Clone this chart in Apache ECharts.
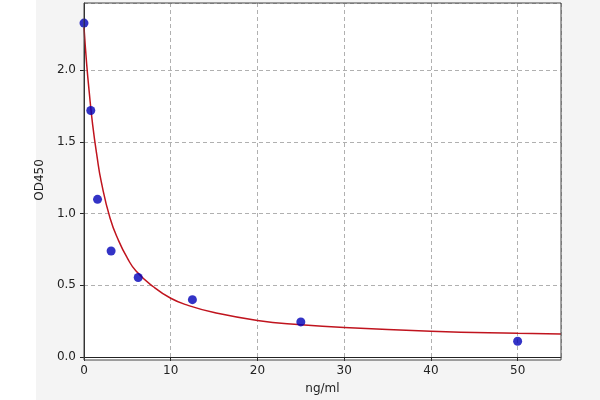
<!DOCTYPE html>
<html><head><meta charset="utf-8">
<script src="https://cdn.jsdelivr.net/npm/echarts@6/dist/echarts.min.js"></script>
<style>body{margin:0;background:#fff}#c{width:600px;height:400px}</style>
</head><body><div id="c"></div>
<script>
// measured standards
const concX = [0, 0.78, 1.56, 3.125, 6.25, 12.5, 25, 50];
const odY = [2.33, 1.72, 1.10, 0.74, 0.555, 0.40, 0.245, 0.11];
// fitted curve
const fitX = [0, 0.3, 0.6, 1, 1.5, 2, 3, 4, 5, 6, 8, 10, 12, 15, 20, 25, 30, 40, 50, 55];
const fitY = [2.30, 2.05, 1.85, 1.62, 1.40, 1.22, 0.97, 0.81, 0.69, 0.60, 0.49, 0.41, 0.36, 0.31, 0.255, 0.225, 0.205, 0.18, 0.165, 0.16];

const chart = echarts.init(document.getElementById('c'));
const grid = { left: 84, right: 39, top: 3, bottom: 40 };
const dash = { show: true, lineStyle: { color: '#b0b0b0', type: [4, 3] } };
chart.setOption({
  backgroundColor: '#fff',
  graphic: [{ type: 'rect', z: -10, shape: { x: 36, y: 0, width: 564, height: 400 }, style: { fill: '#f4f4f4' } },
            { type: 'rect', z: -9, shape: { x: 84, y: 3, width: 477, height: 357 }, style: { fill: '#fff' } },
            { type: 'rect', z: 10, shape: { x: 84, y: 3, width: 477, height: 357 }, style: { fill: 'none', stroke: '#444', lineWidth: 1 } }],
  grid: grid,
  xAxis: {
    type: 'value', min: 0, max: 55, interval: 10, name: 'ng/ml', nameLocation: 'middle', nameGap: 26,
    nameTextStyle: { fontFamily: 'DejaVu Sans', fontSize: 12, color: '#222' },
    axisLine: { lineStyle: { color: '#222' } }, axisTick: { show: true, length: 4, lineStyle: { color: '#222' } },
    axisLabel: { fontFamily: 'DejaVu Sans', fontSize: 12, color: '#222', showMaxLabel: false },
    splitLine: dash
  },
  yAxis: {
    type: 'value', min: 0, max: 2.47, interval: 0.5, name: 'OD450', nameLocation: 'middle', nameGap: 38,
    nameTextStyle: { fontFamily: 'DejaVu Sans', fontSize: 12, color: '#222' },
    axisLine: { show: true, lineStyle: { color: '#222' } }, axisTick: { show: true, length: 4, lineStyle: { color: '#222' } },
    axisLabel: { fontFamily: 'DejaVu Sans', fontSize: 12, color: '#222', showMaxLabel: false, formatter: v => v.toFixed(1) },
    splitLine: dash
  },
  series: [
    { type: 'line', smooth: true, symbol: 'none', data: fitX.map((x, i) => [x, fitY[i]]),
      lineStyle: { color: '#c0141e', width: 1.5 }, z: 2 },
    { type: 'scatter', symbolSize: 9, data: concX.map((x, i) => [x, odY[i]]),
      itemStyle: { color: '#0000b8' }, z: 3 }
  ]
});
</script></body></html>
